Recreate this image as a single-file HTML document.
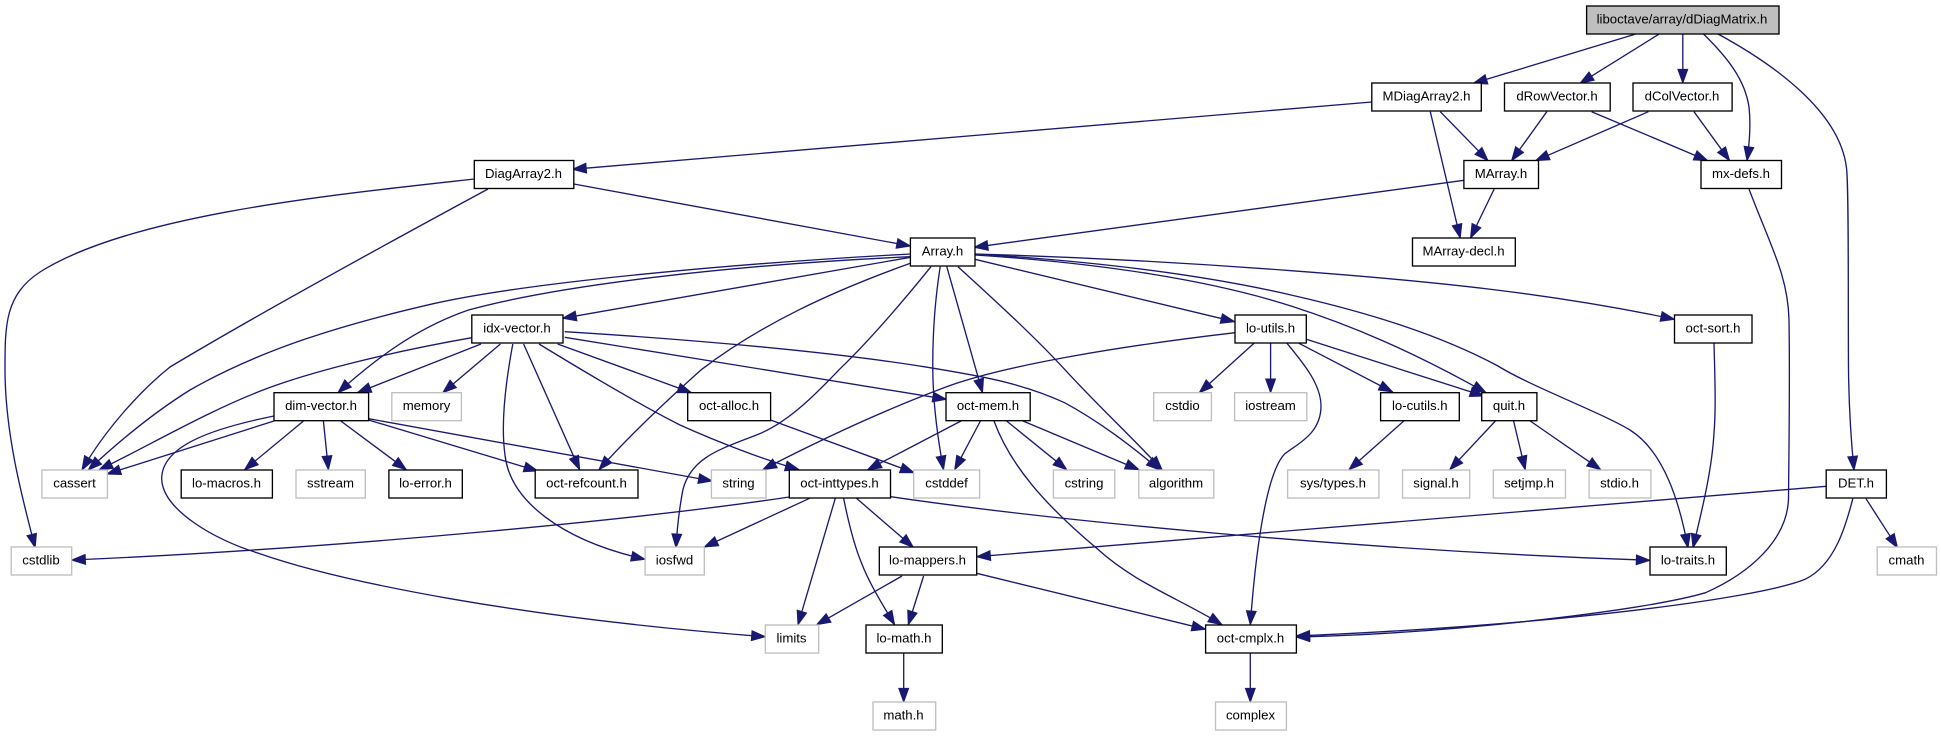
<!DOCTYPE html>
<html><head><meta charset="utf-8"><title>dDiagMatrix.h include graph</title>
<style>
html,body{margin:0;padding:0;background:#fff;width:1941px;height:736px;overflow:hidden}
svg{display:block}
path{fill:none;stroke:#191970;stroke-width:1.33;marker-end:url(#a)}
rect{fill:#fff;stroke:#000;stroke-width:1.33}
rect.g{stroke:#bfbfbf}
rect.t{fill:#bfbfbf}
text{font-family:"Liberation Sans",Arial,sans-serif;font-size:13.2px;text-anchor:middle;fill:#000;transform:translateY(-.7px)}
</style></head><body>
<svg width="1941" height="736" viewBox="0 0 1941 736">
<defs><marker id="a" markerUnits="userSpaceOnUse" markerWidth="17" markerHeight="13" refX="14.5" refY="6" orient="auto"><polygon points="1,1.35 14,6 1,10.65" fill="#191970" stroke="#191970" stroke-width="1.33"/></marker></defs>
<!-- edges -->
<path d="M1635 34.3L1473.4 83.3"/>
<path d="M1658.7 34.3L1580 83.3"/>
<path d="M1682.8 34L1682.8 83"/>
<path d="M1703.5 34C1728 58 1745 80 1749 107C1751 125 1749.5 143 1747 160.5"/>
<path d="M1718 34C1775 65 1840 112 1846.5 168C1849 190 1848 300 1848.5 370C1849 410 1851 440 1854 470"/>
<path d="M1371.8 102L572.6 169.3"/>
<path d="M1440.3 111.7L1488 160.7"/>
<path d="M1430.3 111.7L1460.2 238"/>
<path d="M1546.8 111.7L1511.6 160.7"/>
<path d="M1591.6 111.7L1707.7 160.7"/>
<path d="M1648.4 111.7L1535.6 160.7"/>
<path d="M1694 111.7L1729.6 160.7"/>
<path d="M1463.9 180.3L974.2 247.3"/>
<path d="M1494.2 189L1470.5 238"/>
<path d="M573.8 184L910.4 246"/>
<path d="M488 189C390 242 255 316 170 367C140 391 105 430 82 470"/>
<path d="M474.3 179C330 195 130 215 40 272C5 295 5 325 5 369C5 430 20 490 35.2 547.7"/>
<path d="M910.4 254C760 262 540 280 435 303.3C340 325 260 350 190 390C150 415 115 445 88.3 470"/>
<path d="M910.4 256.7C730 265 560 285 468.5 310C425 325 385 350 338 392.7"/>
<path d="M910.4 257.3L562.6 318.3"/>
<path d="M910.4 263.3C830 292 760 325 701.8 369.3C665 402 630 435 599 469.7"/>
<path d="M931 266.7C900 305 870 340 839.5 369.3C815 395 790 420 762 432.7C725 448 692 455 683 489.3C679 510 677 530 676 547.7"/>
<path d="M940.2 266.7C935 300 932.5 335 932.8 369.3C933 405 938 440 943.5 469.7"/>
<path d="M946.8 266.7L982.5 392.7"/>
<path d="M958 266.7C990 296 1030 332 1064.6 369.3C1100 408 1130 435 1162 469.7"/>
<path d="M975 259.3L1234.6 321.7"/>
<path d="M975 254C1080 257 1190 263 1291 270.7C1430 281 1550 293 1674.5 319.3"/>
<path d="M975 255C1100 263 1210 280 1291 306C1350 325 1410 350 1486 392.7"/>
<path d="M975 254C1090 261 1200 274 1291 295C1370 313 1440 335 1498 366C1530 386 1600 412 1630 430C1665 452 1680 505 1688 547.7"/>
<path d="M471.8 337.7C390 352 310 372 265 389.3C210 410 150 445 99 470"/>
<path d="M481 344L357.4 392.7"/>
<path d="M500.4 344L442.8 392.7"/>
<path d="M512.8 344C507 375 500 420 505 455C510 500 560 540 645 559.3"/>
<path d="M523.6 344L579.6 469.7"/>
<path d="M539 344C580 369 640 405 680 425C720 443 765 460 799 469.7"/>
<path d="M557.6 344L691.5 392.7"/>
<path d="M564.7 337.3L946.4 399.3"/>
<path d="M564.7 331.7C700 340 830 352 919.5 366C975 375 1020 382 1064.6 402.7C1100 422 1130 445 1160 470"/>
<path d="M1254 343.3L1199.3 392.7"/>
<path d="M1270.6 343.3L1270.6 392.7"/>
<path d="M1235 332.7C1130 345 1000 365 940 389.3C880 412 820 440 762.8 469.7"/>
<path d="M1287 343.3C1305 365 1321 385 1321 406C1321 435 1295 445 1284.3 454.3C1265 475 1255 560 1250.3 624.7"/>
<path d="M1299 343.3L1392.6 392"/>
<path d="M1306.3 339.3L1483.8 396"/>
<path d="M1403.8 421L1349 469.7"/>
<path d="M1495.4 421L1449.8 469.7"/>
<path d="M1513.6 421L1525.2 469.7"/>
<path d="M1530.2 421L1600.7 469.7"/>
<path d="M1749 189C1770 245 1788 275 1789 320C1790 380 1789 440 1788.5 499C1787 540 1750 573 1705.6 592.7C1640 612 1440 634 1296 637"/>
<path d="M1852.8 498.7C1846 525 1835 565 1805 579.3C1760 598 1560 625 1296 636"/>
<path d="M1826 486.3L976.7 556.7"/>
<path d="M1866 498.7L1897.5 547.7"/>
<path d="M1714 343.3C1715 380 1716 410 1714 432.7C1712 470 1702 510 1693 547.7"/>
<path d="M789.3 497C650 518 350 548 71.7 560"/>
<path d="M809.6 498.3L704.3 547"/>
<path d="M835.3 498.3L798 624.7"/>
<path d="M843.6 498.3C849 525 854 545 861.4 562.7C870 585 883 605 894.6 624.7"/>
<path d="M856.5 498.3L913.3 547.3"/>
<path d="M890.5 496.7C1050 520 1350 550 1650 560.3"/>
<path d="M902 576L816.7 624.7"/>
<path d="M923.6 576L908.3 624.7"/>
<path d="M976.7 573.3L1205.6 629.3"/>
<path d="M903.7 652.7L903.7 702"/>
<path d="M1250.3 652.7L1250.3 702"/>
<path d="M961 421L867.7 469.7"/>
<path d="M980.4 421L954.7 469.7"/>
<path d="M994 421C1010 465 1045 505 1097.8 549.3C1135 583 1178 598 1222 624.7"/>
<path d="M1006.6 421L1066.7 469.7"/>
<path d="M1023 421L1139 469.7"/>
<path d="M770.6 420L914 472.7"/>
<path d="M274 421L107 474"/>
<path d="M303.5 421L244.6 469.7"/>
<path d="M323.4 421L328.4 469.7"/>
<path d="M340.8 421L406.3 469.7"/>
<path d="M368.6 420L537.7 471"/>
<path d="M368.6 418.7L712.2 481"/>
<path d="M274 416C215 428 161 445 161.7 479.3C163 510 215 540 257 552.7C340 582 520 618 765.3 636.7"/>
<!-- nodes -->
<rect class="t" x="1586.6" y="6" width="192.4" height="28"/><text x="1682" y="24">liboctave/array/dDiagMatrix.h</text>
<rect x="1371.8" y="83" width="109.5" height="28"/><text x="1426.5" y="101">MDiagArray2.h</text>
<rect x="1504.5" y="83" width="105.7" height="28"/><text x="1557" y="101">dRowVector.h</text>
<rect x="1633" y="83" width="99.1" height="28"/><text x="1682" y="101">dColVector.h</text>
<rect x="474.3" y="160.5" width="99.5" height="28"/><text x="523.5" y="178.5">DiagArray2.h</text>
<rect x="1463.9" y="160.5" width="74.6" height="28"/><text x="1501" y="178.5">MArray.h</text>
<rect x="1701" y="160.5" width="80.5" height="28"/><text x="1741" y="178.5">mx-defs.h</text>
<rect x="910.4" y="238" width="64.6" height="28"/><text x="942.5" y="256">Array.h</text>
<rect x="1412.5" y="238" width="102.8" height="28"/><text x="1463.5" y="256">MArray-decl.h</text>
<rect x="471.8" y="315" width="91.2" height="28"/><text x="517" y="333">idx-vector.h</text>
<rect x="1235" y="315" width="71.3" height="28"/><text x="1270.5" y="333">lo-utils.h</text>
<rect x="1674.5" y="315" width="77.5" height="28"/><text x="1713" y="333">oct-sort.h</text>
<rect x="274" y="392.7" width="94.6" height="28"/><text x="321" y="410.7">dim-vector.h</text>
<rect class="g" x="391.8" y="392.7" width="69.6" height="28"/><text x="426.5" y="410.7">memory</text>
<rect x="687.7" y="392.7" width="82.9" height="28"/><text x="729" y="410.7">oct-alloc.h</text>
<rect x="946" y="392.7" width="84.2" height="28"/><text x="988" y="410.7">oct-mem.h</text>
<rect class="g" x="1153.7" y="392.7" width="57.7" height="28"/><text x="1182.5" y="410.7">cstdio</text>
<rect class="g" x="1234.6" y="392.7" width="72.2" height="28"/><text x="1270.5" y="410.7">iostream</text>
<rect x="1380.6" y="392.7" width="78.7" height="28"/><text x="1419.8" y="410.7">lo-cutils.h</text>
<rect x="1481.7" y="392.7" width="55.2" height="28"/><text x="1509" y="410.7">quit.h</text>
<rect class="g" x="41.9" y="470" width="65.5" height="28"/><text x="74.5" y="488">cassert</text>
<rect x="181.2" y="470" width="91.2" height="28"/><text x="226.5" y="488">lo-macros.h</text>
<rect class="g" x="296" y="470" width="69.3" height="28"/><text x="330.5" y="488">sstream</text>
<rect x="388.9" y="470" width="73.4" height="28"/><text x="425.5" y="488">lo-error.h</text>
<rect x="535.2" y="470" width="102.8" height="28"/><text x="586.5" y="488">oct-refcount.h</text>
<rect class="g" x="711.4" y="470" width="54.6" height="28"/><text x="738.5" y="488">string</text>
<rect x="789.3" y="470" width="101.2" height="28"/><text x="839.5" y="488">oct-inttypes.h</text>
<rect class="g" x="913.7" y="470" width="65.9" height="28"/><text x="946.5" y="488">cstddef</text>
<rect class="g" x="1053.4" y="470" width="61.4" height="28"/><text x="1084" y="488">cstring</text>
<rect class="g" x="1138.8" y="470" width="75" height="28"/><text x="1176" y="488">algorithm</text>
<rect class="g" x="1287.6" y="470" width="91.3" height="28"/><text x="1333" y="488">sys/types.h</text>
<rect class="g" x="1402.5" y="470" width="67.2" height="28"/><text x="1436" y="488">signal.h</text>
<rect class="g" x="1493.3" y="470" width="72.2" height="28"/><text x="1529" y="488">setjmp.h</text>
<rect class="g" x="1589.1" y="470" width="61.8" height="28"/><text x="1619.5" y="488">stdio.h</text>
<rect x="1826.2" y="470" width="60.2" height="28"/><text x="1856" y="488">DET.h</text>
<rect class="g" x="11.2" y="547" width="60.5" height="28"/><text x="41" y="565">cstdlib</text>
<rect class="g" x="645.1" y="547" width="59.2" height="28"/><text x="674.5" y="565">iosfwd</text>
<rect x="879.3" y="547" width="97.4" height="28"/><text x="927.5" y="565">lo-mappers.h</text>
<rect x="1650" y="547" width="76.3" height="28"/><text x="1688" y="565">lo-traits.h</text>
<rect class="g" x="1877.2" y="547" width="59.3" height="28"/><text x="1906.5" y="565">cmath</text>
<rect class="g" x="765.3" y="625" width="53.4" height="28"/><text x="791.5" y="643">limits</text>
<rect x="866" y="625" width="76.3" height="28"/><text x="904" y="643">lo-math.h</text>
<rect x="1205.6" y="625" width="90.8" height="28"/><text x="1250.5" y="643">oct-cmplx.h</text>
<rect class="g" x="873" y="702" width="62.7" height="28"/><text x="903.5" y="720">math.h</text>
<rect class="g" x="1215.5" y="702" width="70.9" height="28"/><text x="1250.5" y="720">complex</text>
</svg>
</body></html>
